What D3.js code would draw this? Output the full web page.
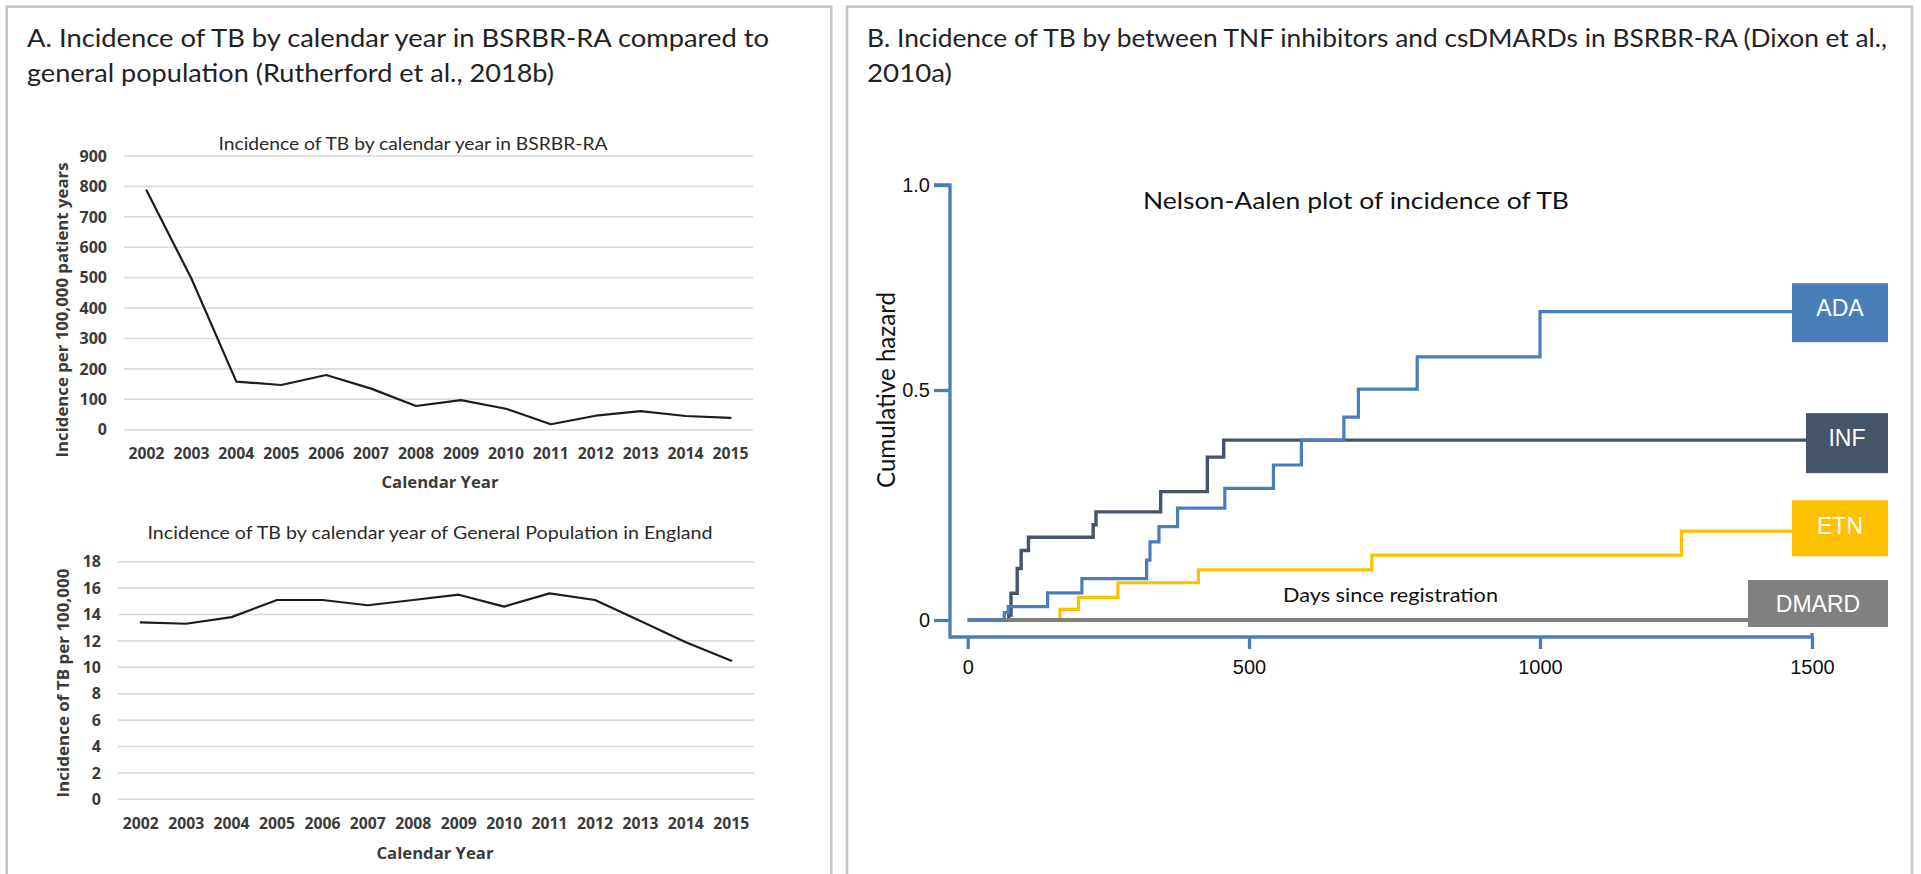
<!DOCTYPE html>
<html>
<head>
<meta charset="utf-8">
<script src="https://cdn.jsdelivr.net/npm/d3@7"></script>
<style>
  html, body { margin: 0; padding: 0; background: #fff; overflow: hidden; }
  svg { display: block; }
</style>
</head>
<body>
<svg id="fig" width="1921" height="874"></svg>
<script>
// ---------- Panel A: incidence of TB by calendar year ----------
const years = ["2002", "2003", "2004", "2005", "2006", "2007", "2008",
               "2009", "2010", "2011", "2012", "2013", "2014", "2015"];
// BSRBR-RA cohort, per 100,000 patient years
const rateBSRBR = [787, 497, 158, 147, 180, 135, 78, 97, 69, 18, 46, 61, 45, 39];
const bsrbrTicks = [0, 100, 200, 300, 400, 500, 600, 700, 800, 900];
// General population in England, per 100,000
const rateEngland = [13.4, 13.3, 13.8, 15.1, 15.1, 14.7, 15.1, 15.5, 14.6, 15.6, 15.1, 13.5, 11.9, 10.5];
const englandTicks = [0, 2, 4, 6, 8, 10, 12, 14, 16, 18];

// ---------- Panel B: Nelson-Aalen cumulative hazard ----------
const adaDays    = [0, 65, 72, 142, 203, 318, 324, 340, 373, 457, 542, 590, 663, 688, 789, 1000];
const adaHazard  = [0, 0.016, 0.029, 0.059, 0.090, 0.130, 0.170, 0.203, 0.243, 0.286, 0.337, 0.391, 0.441, 0.502, 0.581, 0.691];
const infDays    = [0, 73, 77, 88, 95, 108, 223, 228, 343, 426, 455];
const infHazard  = [0, 0.011, 0.058, 0.112, 0.151, 0.180, 0.207, 0.235, 0.279, 0.354, 0.391];
const etnDays    = [0, 164, 197, 267, 410, 711, 1260];
const etnHazard  = [0, 0.023, 0.049, 0.081, 0.109, 0.141, 0.193];
const dmardDays  = [0];
const dmardHazard = [0];
const groupNames = ["INF", "ETN", "DMARD", "ADA"];
const daysTicks = [0, 500, 1000, 1500];
const hazardTicks = [0, 0.5, 1];

const svg = d3.select("#fig");
const textFont = "Lato, 'Open Sans', sans-serif";

// ---------- panel frames ----------
const frameColor = "#c6c6c6";
svg.append("rect").attr("x", 6.7).attr("y", 6.7).attr("width", 824.6).attr("height", 900)
  .attr("fill", "none").attr("stroke", frameColor).attr("stroke-width", 2.6);
svg.append("rect").attr("x", 847).attr("y", 6.7).attr("width", 1065).attr("height", 900)
  .attr("fill", "none").attr("stroke", frameColor).attr("stroke-width", 2.6);

// ---------- panel headings ----------
function heading(x, y, text, len) {
  svg.append("text").attr("x", x).attr("y", y)
    .attr("font-family", textFont).attr("font-size", 25).attr("font-weight", 400)
    .attr("fill", "#222").attr("textLength", len).attr("lengthAdjust", "spacingAndGlyphs")
    .text(text);
}
heading(27, 47, "A. Incidence of TB by calendar year in BSRBR-RA compared to", 742);
heading(27, 82, "general population (Rutherford et al., 2018b)", 527);
heading(867, 47, "B. Incidence of TB by between TNF inhibitors and csDMARDs in BSRBR-RA (Dixon et al.,", 1020);
heading(867, 82, "2010a)", 85);

// ---------- panel A line charts ----------
function lineChart(cfg, values, ticks) {
  const g = svg.append("g");
  const x = d3.scalePoint().domain(years).range([cfg.left, cfg.right]).padding(0.5);
  const y = d3.scaleLinear().domain([0, d3.max(ticks)]).range([cfg.bottom, cfg.top]);

  // horizontal gridlines
  g.append("g").selectAll("line").data(ticks).join("line")
    .attr("x1", cfg.left).attr("x2", cfg.right)
    .attr("y1", d => y(d)).attr("y2", d => y(d))
    .attr("stroke", "#d9d9d9").attr("stroke-width", 1.6);

  // y tick labels
  g.append("g").selectAll("text").data(ticks).join("text")
    .attr("x", cfg.left - 17).attr("y", d => y(d)).attr("dy", "0.36em")
    .attr("text-anchor", "end")
    .attr("font-family", "'Open Sans', sans-serif").attr("font-weight", 700)
    .attr("font-size", 16).attr("fill", "#3a3a3a")
    .text(d => d);

  // x tick labels
  g.append("g").selectAll("text").data(years).join("text")
    .attr("x", d => x(d)).attr("y", cfg.xLabelY).attr("dy", "0.36em")
    .attr("text-anchor", "middle")
    .attr("font-family", "'Open Sans', sans-serif").attr("font-weight", 700)
    .attr("font-size", 16).attr("fill", "#3a3a3a")
    .attr("textLength", 36).attr("lengthAdjust", "spacingAndGlyphs")
    .text(d => d);

  // series line
  const line = d3.line().x((d, i) => x(years[i])).y(d => y(d));
  g.append("path").datum(values)
    .attr("d", line).attr("fill", "none")
    .attr("stroke", "#1c1c1c").attr("stroke-width", 2.2)
    .attr("stroke-linejoin", "round").attr("stroke-linecap", "round");

  // chart title
  g.append("text").attr("x", cfg.titleX).attr("y", cfg.titleY).attr("dy", "0.36em")
    .attr("text-anchor", "middle")
    .attr("font-family", textFont).attr("font-size", 17).attr("font-weight", 400)
    .attr("fill", "#2a2a2a").attr("textLength", cfg.titleLen).attr("lengthAdjust", "spacingAndGlyphs")
    .text(cfg.title);

  // x axis title
  g.append("text").attr("x", cfg.xTitleX).attr("y", cfg.xTitleY).attr("dy", "0.36em")
    .attr("text-anchor", "middle")
    .attr("font-family", "'Open Sans', sans-serif").attr("font-weight", 700)
    .attr("font-size", 16).attr("fill", "#3a3a3a")
    .attr("textLength", 117).attr("lengthAdjust", "spacingAndGlyphs")
    .text("Calendar Year");

  // y axis title
  g.append("text")
    .attr("transform", `translate(${cfg.yTitleX},${cfg.yTitleY}) rotate(-90)`)
    .attr("dy", "0.36em").attr("text-anchor", "middle")
    .attr("font-family", "'Open Sans', sans-serif").attr("font-weight", 700)
    .attr("font-size", 16).attr("fill", "#3a3a3a")
    .attr("textLength", cfg.yTitleLen).attr("lengthAdjust", "spacingAndGlyphs")
    .text(cfg.yTitle);
}

lineChart({
  left: 124, right: 753, top: 156, bottom: 429.7,
  xLabelY: 453, titleX: 413, titleY: 144, titleLen: 389,
  title: "Incidence of TB by calendar year in BSRBR-RA",
  xTitleX: 440, xTitleY: 482,
  yTitleX: 62, yTitleY: 310, yTitleLen: 295,
  yTitle: "Incidence per 100,000 patient years"
}, rateBSRBR, bsrbrTicks);

lineChart({
  left: 118, right: 754, top: 561.7, bottom: 799.3,
  xLabelY: 823, titleX: 430, titleY: 533, titleLen: 565,
  title: "Incidence of TB by calendar year of General Population in England",
  xTitleX: 435, xTitleY: 853,
  yTitleX: 63, yTitleY: 683, yTitleLen: 229,
  yTitle: "Incidence of TB per 100,000"
}, rateEngland, englandTicks);

// ---------- panel B: Nelson-Aalen plot ----------
const axisBlue = "#4a7ebb";
const xB = d3.scaleLinear().domain(daysTicks).range([967.7, 1249, 1540, 1812]);
const yB = d3.scaleLinear().domain([0, 0.5, 1]).range([620, 390, 185]);
const axisX0 = 950;   // offset position of the y axis line
const axisY0 = 637;   // offset position of the x axis line

const gB = svg.append("g");

// y axis ticks and labels
const yAxis = d3.axisLeft(yB).tickValues(hazardTicks)
  .tickFormat(d => d === 0 ? "0" : d3.format(".1f")(d))
  .tickSize(16).tickSizeOuter(0).tickPadding(4);
const gy = gB.append("g").attr("transform", `translate(${axisX0},0)`).call(yAxis);
gy.select(".domain").remove();
gy.selectAll(".tick line").attr("stroke", axisBlue).attr("stroke-width", 3.3);
gy.selectAll(".tick text").attr("font-family", "'Liberation Sans', Arial, sans-serif")
  .attr("font-size", 20).attr("fill", "#111");

// x axis ticks and labels
const xAxis = d3.axisBottom(xB).tickValues(daysTicks).tickFormat(d3.format("d"))
  .tickSize(12).tickSizeOuter(0).tickPadding(11);
const gx = gB.append("g").attr("transform", `translate(0,${axisY0})`).call(xAxis);
gx.select(".domain").remove();
gx.selectAll(".tick line").attr("stroke", axisBlue).attr("stroke-width", 3.3);
gx.selectAll(".tick text").attr("font-family", "'Liberation Sans', Arial, sans-serif")
  .attr("font-size", 20).attr("fill", "#111");

// L-shaped axis frame
gB.append("path")
  .attr("d", `M${axisX0 - 16},${yB(1)} H${axisX0} V${axisY0} H${xB(1500) + 1.6}`)
  .attr("fill", "none").attr("stroke", axisBlue).attr("stroke-width", 3.3)
  .attr("stroke-linejoin", "miter");
gB.append("line").attr("x1", xB(1500)).attr("x2", xB(1500))
  .attr("y1", axisY0 - 4).attr("y2", axisY0)
  .attr("stroke", axisBlue).attr("stroke-width", 3.3);

// plot titles
gB.append("text").attr("x", 1143).attr("y", 209)
  .attr("font-family", textFont).attr("font-size", 24).attr("font-weight", 400)
  .attr("fill", "#111").attr("textLength", 426).attr("lengthAdjust", "spacingAndGlyphs")
  .text("Nelson-Aalen plot of incidence of TB");
gB.append("text").attr("x", 1283).attr("y", 602)
  .attr("font-family", textFont).attr("font-size", 20).attr("font-weight", 400)
  .attr("fill", "#111").attr("textLength", 215).attr("lengthAdjust", "spacingAndGlyphs")
  .text("Days since registration");
gB.append("text")
  .attr("transform", `translate(895,390) rotate(-90)`)
  .attr("text-anchor", "middle")
  .attr("font-family", textFont).attr("font-size", 25).attr("font-weight", 400)
  .attr("fill", "#111").attr("textLength", 196).attr("lengthAdjust", "spacingAndGlyphs")
  .text("Cumulative hazard");

// step curves, each running on to its label box
const series = {
  ADA:   { days: adaDays,   hazard: adaHazard },
  INF:   { days: infDays,   hazard: infHazard },
  ETN:   { days: etnDays,   hazard: etnHazard },
  DMARD: { days: dmardDays, hazard: dmardHazard }
};
const seriesStyle = {
  ADA:   { color: "#4a7ebb", width: 3.2, boxW: 96,  boxH: 59, boxDy: 1,     textDy: 3.2 },
  INF:   { color: "#44546a", width: 3.4, boxW: 82,  boxH: 60, boxDy: 3,     textDy: 2.7 },
  ETN:   { color: "#ffc000", width: 3.2, boxW: 96,  boxH: 56, boxDy: -3,    textDy: 5.3 },
  DMARD: { color: "#808080", width: 4.2, boxW: 140, boxH: 47, boxDy: -16.5, textDy: 8.2 }
};
const boxRight = 1888;
const step = d3.line().x(d => xB(d[0])).y(d => yB(d[1])).curve(d3.curveStepAfter);

groupNames.forEach(name => {
  const s = series[name], st = seriesStyle[name];
  const boxLeft = boxRight - st.boxW;
  const pts = s.days.map((d, i) => [d, s.hazard[i]]);
  pts.push([xB.invert(boxLeft), s.hazard[s.hazard.length - 1]]);
  gB.append("path").datum(pts).attr("d", step)
    .attr("fill", "none").attr("stroke", st.color).attr("stroke-width", st.width)
    .attr("stroke-linejoin", "miter");
});

// label boxes
groupNames.forEach(name => {
  const s = series[name], st = seriesStyle[name];
  const last = s.hazard[s.hazard.length - 1];
  const cy = yB(last) + st.boxDy;
  const boxLeft = boxRight - st.boxW;
  gB.append("rect").attr("x", boxLeft).attr("y", cy - st.boxH / 2)
    .attr("width", st.boxW).attr("height", st.boxH).attr("fill", st.color);
  gB.append("text").attr("x", boxLeft + st.boxW / 2).attr("y", cy + st.textDy)
    .attr("text-anchor", "middle")
    .attr("font-family", "'Liberation Sans', Arial, sans-serif").attr("font-size", 23)
    .attr("fill", "#fff").text(name);
});
</script>
</body>
</html>
